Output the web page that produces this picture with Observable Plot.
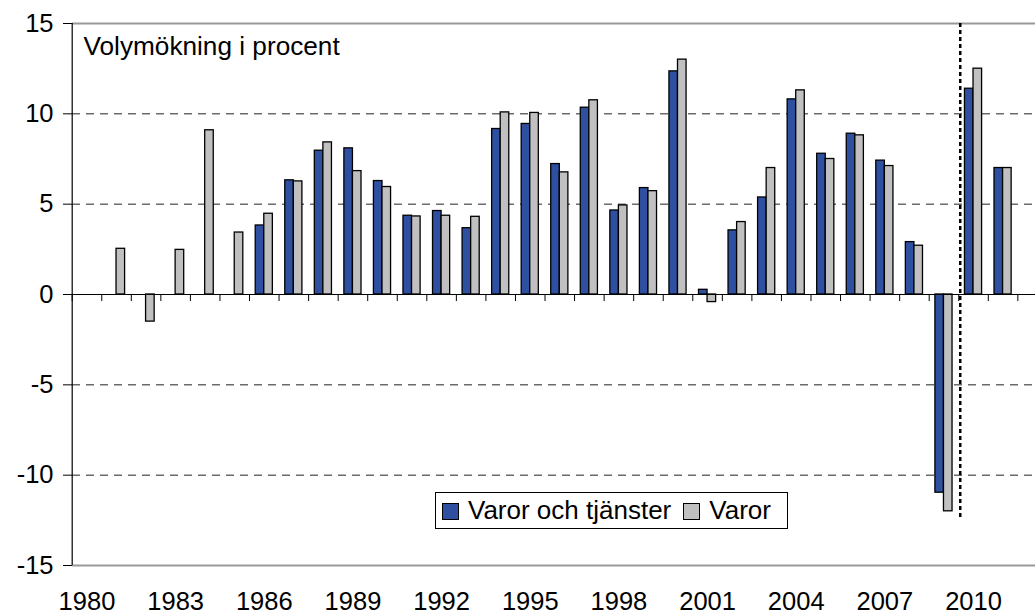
<!DOCTYPE html>
<html>
<head>
<meta charset="utf-8">
<script src="https://cdn.jsdelivr.net/npm/d3@7"></script>
<script src="https://cdn.jsdelivr.net/npm/@observablehq/plot@0.6"></script>
<style>
  html, body { margin: 0; padding: 0; background: white; }
  #wrap { position: relative; width: 1035px; height: 614px; overflow: hidden; font-family: "Liberation Sans", Arial, sans-serif; }
  #legend { position: absolute; left: 435px; top: 492px; width: 351px; height: 35px; border: 1px solid #000; background: white; display: flex; align-items: center; font-size: 26px; color: #000; box-sizing: content-box; white-space: nowrap; }
  .sw { display: inline-block; width: 15px; height: 15px; border: 1px solid #000; margin: 1px 9px 0 6px; }
  #chart svg text { font-size: 25.5px !important; font-family: "Liberation Sans", Arial, sans-serif !important; }
  #chart svg g[aria-label="text"] text { font-size: 26.2px !important; }
</style>
</head>
<body>
<div id="wrap">
  <div id="chart"></div>
  <div id="legend"></div>
</div>
<script>
// ---- Data ----
const years = [1980,1981,1982,1983,1984,1985,1986,1987,1988,1989,1990,1991,1992,1993,1994,1995,
               1996,1997,1998,1999,2000,2001,2002,2003,2004,2005,2006,2007,2008,2009,2010,2011];
const varorOchTjanster = [null,null,null,null,null,null,3.82,6.32,7.96,8.09,6.28,4.36,4.62,3.67,9.16,9.44,
                          7.22,10.34,4.65,5.89,12.35,0.26,3.55,5.37,10.8,7.79,8.9,7.41,2.9,-10.97,11.39,7.0];
const varor = [null,2.53,-1.5,2.47,9.09,3.43,4.47,6.26,8.42,6.83,5.95,4.32,4.36,4.30,10.08,10.05,
               6.76,10.75,4.93,5.72,13.0,-0.42,4.01,7.0,11.3,7.5,8.81,7.11,2.7,-12.0,12.5,7.0];
const seriesNames = ["Varor och tjänster", "Varor"];
const seriesColors = ["#2f4fa1", "#c0c0c0"];
const yTicks = [-15,-10,-5,0,5,10,15];
const xTickYears = [1980,1983,1986,1989,1992,1995,1998,2001,2004,2007,2010];
const titleText = "Volymökning i procent";
const forecastBoundary = 2009.5;  // dotted separator between outcome and forecast
const forecastLineBottom = -12.4;

// ---- Build table ----
const rows = [];
years.forEach((yr, i) => {
  if (varorOchTjanster[i] != null) rows.push({year: yr, series: seriesNames[0], value: varorOchTjanster[i], side: -1});
  if (varor[i] != null) rows.push({year: yr, series: seriesNames[1], value: varor[i], side: 1});
});
const barW = 0.29;
const boundaries = d3.range(years[0] - 0.5, years[years.length - 1] + 1.5 + 0.01, 1);

const font = "Liberation Sans, Arial, sans-serif";
const chart = Plot.plot({
  width: 1035,
  height: 614,
  marginLeft: 72,
  marginRight: 0,
  marginTop: 23,
  marginBottom: 49,
  style: {fontFamily: font, fontSize: "25.5px", background: "white", color: "#000", overflow: "visible"},
  x: {type: "linear", domain: [years[0] - 0.5, years[years.length - 1] + 1.5], range: [71.7, 1046.9]},
  y: {domain: [-15, 15]},
  color: {domain: seriesNames, range: seriesColors},
  marks: [
    // gridlines
    Plot.ruleY([-10, -5, 5, 10], {stroke: "#222", strokeWidth: 1, strokeDasharray: "8,6"}),
    Plot.ruleY([15, -15], {stroke: "#999", strokeWidth: 2}),
    // bars
    Plot.rect(rows, {
      x1: d => d.side < 0 ? d.year - barW : d.year,
      x2: d => d.side < 0 ? d.year : d.year + barW,
      y1: 0, y2: "value",
      fill: "series", stroke: "#000", strokeWidth: 1.3
    }),
    // zero line and category tick marks
    Plot.ruleY([0], {stroke: "#000", strokeWidth: 1}),
    Plot.ruleX(boundaries, {x: d => d, y1: 0, y2: -0.39, stroke: "#000", strokeWidth: 1}),
    // y axis line
    Plot.ruleX([years[0] - 0.5], {y1: -15, y2: 15, stroke: "#000", strokeWidth: 1.2}),
    // dotted forecast separator
    Plot.ruleX([forecastBoundary], {y1: 15, y2: forecastLineBottom, stroke: "#000", strokeWidth: 2.5, strokeDasharray: "4,3", dx: 1.5}),
    Plot.axisY({ticks: yTicks, tickSize: 9, tickPadding: 10, tickFormat: d => String(d), fontSize: 25.5, label: null, stroke: "#000"}),
    Plot.axisX({ticks: xTickYears, tickSize: 0, tickPadding: 26, tickFormat: d => String(d), fontSize: 25.5, label: null}),
    Plot.text([titleText], {frameAnchor: "top-left", lineAnchor: "top", textAnchor: "start", dx: 11, dy: 13, fontSize: 26.2, fill: "#000"})
  ]
});
document.getElementById("chart").appendChild(chart);

// legend
const legend = document.getElementById("legend");
seriesNames.forEach((name, i) => {
  const sw = document.createElement("span");
  sw.className = "sw";
  sw.style.background = seriesColors[i];
  if (i > 0) sw.style.marginLeft = "12px";
  legend.appendChild(sw);
  const t = document.createElement("span");
  t.textContent = name;
  legend.appendChild(t);
});
</script>
</body>
</html>
